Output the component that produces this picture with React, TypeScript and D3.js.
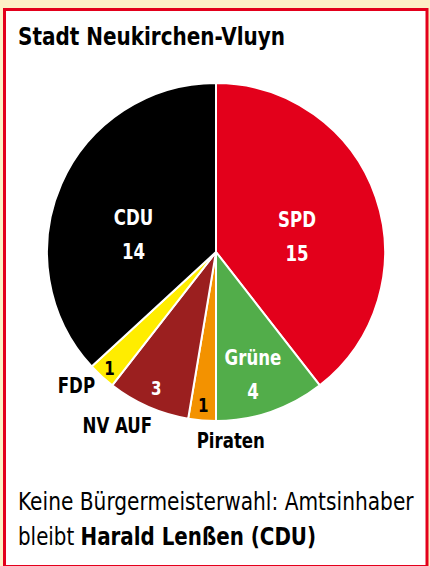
import React from "react";
import * as d3 from "d3";

const parties = ["SPD", "Grüne", "Piraten", "NV AUF", "FDP", "CDU"];
const seats = [15, 4, 1, 3, 1, 14];
const colors = ["#e3001b", "#52ad4a", "#f39200", "#9b1f1f", "#ffed00", "#000000"];
// label placement (polar: angle offset in degrees from slice middle, radius factor)
const insideLabel = [true, true, false, false, false, true];
const labelAngleShift = [7, 2, 0, 0, 0, -11];
const labelRadius = [0.49, 0.75, 0.91, 0.88, 0.93, 0.5];
const numberColor = ["#fff", "#fff", "#000", "#fff", "#000", "#fff"];
const outerDx = [0, 0, -4, -24, 5, 0];
const outerDy = [0, 0, 11, 11, 4, 0];
const title = "Stadt Neukirchen-Vluyn";
const footer1 = "Keine Bürgermeisterwahl: Amtsinhaber";
const footer2a = "bleibt ";
const footer2b = "Harald Lenßen (CDU)";

const W = 430, H = 566;
const cx = 216, cy = 252, R = 169;
const FONT = "'DejaVu Sans Condensed', 'DejaVu Sans', sans-serif";
const SX = 0.84;

function CText(props: { x: number; y: number; anchor?: string; size: number; fill: string; bold?: boolean; children: React.ReactNode }) {
  return (
    <g transform={`translate(${props.x},${props.y}) scale(${SX},1)`}>
      <text x={0} y={0} fontFamily={FONT} fontStretch="condensed" fontWeight={props.bold === false ? "normal" : "bold"} fontSize={props.size} fill={props.fill} textAnchor={props.anchor || "middle"}>
        {props.children}
      </text>
    </g>
  );
}

export default function App() {
  const pie = d3.pie<number>().sort(null).value((d) => d)(seats);
  const arc = d3.arc<d3.PieArcDatum<number>>().innerRadius(0).outerRadius(R);

  const polar = (angleRad: number, r: number) => [Math.sin(angleRad) * r, -Math.cos(angleRad) * r];

  return (
    <div style={{ position: "absolute", left: 0, top: 0 }}>
      <svg width={W} height={H} style={{ display: "block" }}>
        <rect x={0} y={0} width={W} height={H} fill="#fdf0c6" />
        <rect x={4.5} y={9.5} width={422.5} height={557} fill="#fff" stroke="#e3001b" strokeWidth={3} />
        <text x={18} y={45} fontFamily={FONT} fontStretch="condensed" fontWeight="bold" fontSize={25} fill="#000" textLength={267} lengthAdjust="spacingAndGlyphs">{title}</text>
        <g transform={`translate(${cx},${cy})`}>
          {pie.map((p, i) => (
            <path key={i} d={arc(p) || ""} fill={colors[i]} stroke="#fff" strokeWidth={2} strokeLinejoin="round" />
          ))}
          {pie.map((p, i) => {
            const mid = (p.startAngle + p.endAngle) / 2 + (labelAngleShift[i] * Math.PI) / 180;
            const [x, y] = polar(mid, R * labelRadius[i]);
            if (insideLabel[i]) {
              return (
                <g key={"l" + i}>
                  <CText x={x} y={y - 8} size={22} fill={numberColor[i]}>{parties[i]}</CText>
                  <CText x={x} y={y + 26} size={22} fill={numberColor[i]}>{seats[i]}</CText>
                </g>
              );
            }
            return (
              <CText key={"l" + i} x={x} y={y + 7} size={20} fill={numberColor[i]}>{seats[i]}</CText>
            );
          })}
          {pie.map((p, i) => {
            if (insideLabel[i]) return null;
            const mid = (p.startAngle + p.endAngle) / 2;
            const [x, y] = polar(mid, R * 1.1);
            const anchor = Math.sin(mid) < -0.5 ? "end" : Math.sin(mid) < -0.1 ? "middle" : "start";
            return (
              <CText key={"o" + i} x={x + outerDx[i]} y={y + outerDy[i]} size={22} fill="#000" anchor={anchor}>
                {parties[i]}
              </CText>
            );
          })}
        </g>
        <g transform="translate(18,510) scale(0.92,1)">
          <text x={0} y={0} fontFamily={FONT} fontStretch="condensed" fontSize={24} fill="#000" textLength={430} lengthAdjust="spacingAndGlyphs">{footer1}</text>
        </g>
        <g transform="translate(18,545) scale(0.92,1)">
          <text x={0} y={0} fontFamily={FONT} fontStretch="condensed" fontSize={24} fill="#000" textLength={324} lengthAdjust="spacingAndGlyphs">
            {footer2a}
            <tspan fontWeight="bold">{footer2b}</tspan>
          </text>
        </g>
      </svg>
    </div>
  );
}
